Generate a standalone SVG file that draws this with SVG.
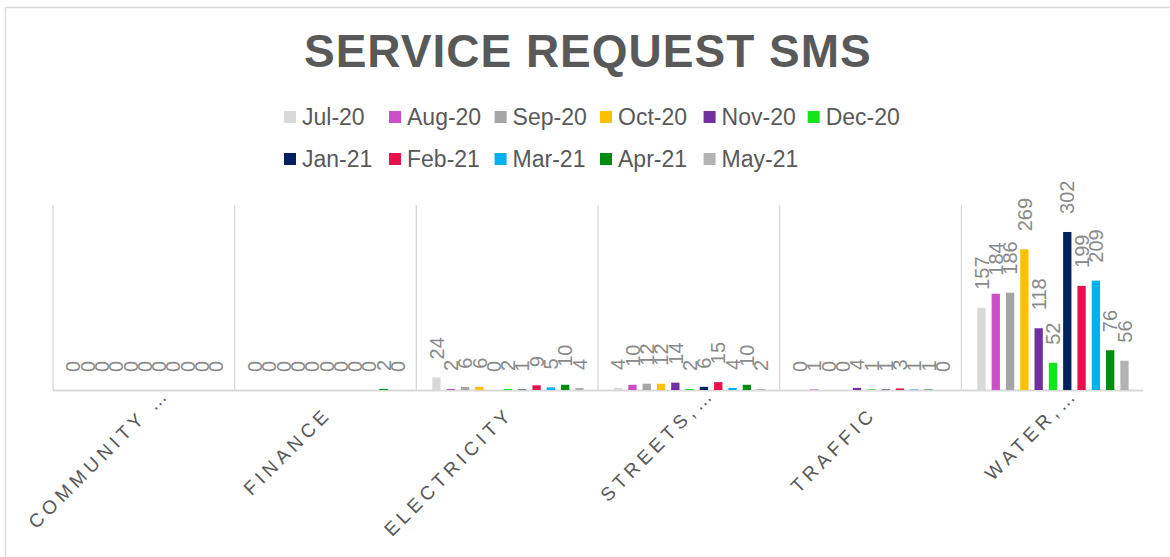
<svg xmlns="http://www.w3.org/2000/svg" width="1170" height="557" viewBox="0 0 1170 557">
<style>
.title{font-family:"Liberation Sans",Arial,sans-serif;font-weight:bold;font-size:46px;fill:#595959;letter-spacing:1px}
.leg{font-family:"Liberation Sans",Arial,sans-serif;font-size:23px;fill:#595959}
.cat{font-family:"Liberation Sans",Arial,sans-serif;font-size:19px;fill:#595959;letter-spacing:4.5px;text-anchor:end}
.dl{font-family:"Liberation Sans",Arial,sans-serif;font-size:20px;fill:#8a8a8a}
.grid{stroke:#d9d9d9;stroke-width:1.3;fill:none}
.c0{fill:#d9d9d9}.c1{fill:#cc4fc8}.c2{fill:#a5a5a5}.c3{fill:#ffc000}.c4{fill:#7030a0}.c5{fill:#12e51b}
.c6{fill:#002060}.c7{fill:#e8114b}.c8{fill:#00b0f0}.c9{fill:#008c0f}.c10{fill:#b3b3b3}
</style>
<rect x="0" y="0" width="1170" height="557" fill="#ffffff"/>
<rect x="5.5" y="7.5" width="1200" height="600" fill="none" stroke="#d9d9d9" stroke-width="1.5"/>
<text class="title" x="304" y="67">SERVICE REQUEST SMS</text>
<g id="legend">
<rect class="c0" x="284" y="111" width="12" height="12"/><text class="leg" x="302" y="125">Jul-20</text>
<rect class="c1" x="389" y="111" width="12" height="12"/><text class="leg" x="407" y="125">Aug-20</text>
<rect class="c2" x="494.6" y="111" width="12" height="12"/><text class="leg" x="512.6" y="125">Sep-20</text>
<rect class="c3" x="600" y="111" width="12" height="12"/><text class="leg" x="618" y="125">Oct-20</text>
<rect class="c4" x="703.6" y="111" width="12" height="12"/><text class="leg" x="721.6" y="125">Nov-20</text>
<rect class="c5" x="807.7" y="111" width="12" height="12"/><text class="leg" x="825.7" y="125">Dec-20</text>
<rect class="c6" x="284" y="153" width="12" height="12"/><text class="leg" x="302" y="167">Jan-21</text>
<rect class="c7" x="389" y="153" width="12" height="12"/><text class="leg" x="407" y="167">Feb-21</text>
<rect class="c8" x="494.6" y="153" width="12" height="12"/><text class="leg" x="512.6" y="167">Mar-21</text>
<rect class="c9" x="600" y="153" width="12" height="12"/><text class="leg" x="618" y="167">Apr-21</text>
<rect class="c10" x="703.6" y="153" width="12" height="12"/><text class="leg" x="721.6" y="167">May-21</text>
</g>
<g id="connectors">
<path class="grid" d="M53 205V390M234.67 205V390M416.33 205V390M598 205V390M779.67 205V390M961.33 205V390"/>
<line x1="53" y1="390.5" x2="1143" y2="390.5" stroke="#d9d9d9" stroke-width="2"/>
</g>
<g id="community" transform="translate(53,0)">
<text class="dl" transform="translate(27.35 372) rotate(-90)">0</text>
<text class="dl" transform="translate(41.65 372) rotate(-90)">0</text>
<text class="dl" transform="translate(55.95 372) rotate(-90)">0</text>
<text class="dl" transform="translate(70.25 372) rotate(-90)">0</text>
<text class="dl" transform="translate(84.55 372) rotate(-90)">0</text>
<text class="dl" transform="translate(98.85 372) rotate(-90)">0</text>
<text class="dl" transform="translate(113.15 372) rotate(-90)">0</text>
<text class="dl" transform="translate(127.45 372) rotate(-90)">0</text>
<text class="dl" transform="translate(141.75 372) rotate(-90)">0</text>
<text class="dl" transform="translate(156.05 372) rotate(-90)">0</text>
<text class="dl" transform="translate(170.35 372) rotate(-90)">0</text>
<text class="cat" transform="translate(118 395) rotate(-45)">COMMUNITY …</text>
</g>
<g id="finance" transform="translate(234.67,0)">
<rect class="c9" x="144.7" y="388.95" width="8.3" height="1.05"/>
<text class="dl" transform="translate(27.35 372) rotate(-90)">0</text>
<text class="dl" transform="translate(41.65 372) rotate(-90)">0</text>
<text class="dl" transform="translate(55.95 372) rotate(-90)">0</text>
<text class="dl" transform="translate(70.25 372) rotate(-90)">0</text>
<text class="dl" transform="translate(84.55 372) rotate(-90)">0</text>
<text class="dl" transform="translate(98.85 372) rotate(-90)">0</text>
<text class="dl" transform="translate(113.15 372) rotate(-90)">0</text>
<text class="dl" transform="translate(127.45 372) rotate(-90)">0</text>
<text class="dl" transform="translate(141.75 372) rotate(-90)">0</text>
<text class="dl" transform="translate(156.05 370.95) rotate(-90)">2</text>
<text class="dl" transform="translate(170.35 372) rotate(-90)">0</text>
<text class="cat" transform="translate(98 415) rotate(-45)">FINANCE</text>
</g>
<g id="electricity" transform="translate(416.33,0)">
<rect class="c0" x="16" y="377.44" width="8.3" height="12.56"/>
<rect class="c1" x="30.3" y="388.95" width="8.3" height="1.05"/>
<rect class="c2" x="44.6" y="386.86" width="8.3" height="3.14"/>
<rect class="c3" x="58.9" y="386.86" width="8.3" height="3.14"/>
<rect class="c5" x="87.5" y="388.95" width="8.3" height="1.05"/>
<rect class="c6" x="101.8" y="389.48" width="8.3" height="0.52"/>
<rect class="c7" x="116.1" y="385.29" width="8.3" height="4.71"/>
<rect class="c8" x="130.4" y="387.38" width="8.3" height="2.62"/>
<rect class="c9" x="144.7" y="384.77" width="8.3" height="5.23"/>
<rect class="c10" x="159" y="387.91" width="8.3" height="2.09"/>
<text class="dl" transform="translate(27.35 359.44) rotate(-90)">24</text>
<text class="dl" transform="translate(41.65 370.95) rotate(-90)">2</text>
<text class="dl" transform="translate(55.95 368.86) rotate(-90)">6</text>
<text class="dl" transform="translate(70.25 368.86) rotate(-90)">6</text>
<text class="dl" transform="translate(84.55 372) rotate(-90)">0</text>
<text class="dl" transform="translate(98.85 370.95) rotate(-90)">2</text>
<text class="dl" transform="translate(113.15 371.48) rotate(-90)">1</text>
<text class="dl" transform="translate(127.45 367.29) rotate(-90)">9</text>
<text class="dl" transform="translate(141.75 369.38) rotate(-90)">5</text>
<text class="dl" transform="translate(156.05 366.77) rotate(-90)">10</text>
<text class="dl" transform="translate(170.35 369.91) rotate(-90)">4</text>
<text class="cat" transform="translate(98 415) rotate(-45)">ELECTRICITY</text>
</g>
<g id="streets" transform="translate(598,0)">
<rect class="c0" x="16" y="387.91" width="8.3" height="2.09"/>
<rect class="c1" x="30.3" y="384.77" width="8.3" height="5.23"/>
<rect class="c2" x="44.6" y="383.72" width="8.3" height="6.28"/>
<rect class="c3" x="58.9" y="383.72" width="8.3" height="6.28"/>
<rect class="c4" x="73.2" y="382.68" width="8.3" height="7.32"/>
<rect class="c5" x="87.5" y="388.95" width="8.3" height="1.05"/>
<rect class="c6" x="101.8" y="386.86" width="8.3" height="3.14"/>
<rect class="c7" x="116.1" y="382.15" width="8.3" height="7.85"/>
<rect class="c8" x="130.4" y="387.91" width="8.3" height="2.09"/>
<rect class="c9" x="144.7" y="384.77" width="8.3" height="5.23"/>
<rect class="c10" x="159" y="388.95" width="8.3" height="1.05"/>
<text class="dl" transform="translate(27.35 369.91) rotate(-90)">4</text>
<text class="dl" transform="translate(41.65 366.77) rotate(-90)">10</text>
<text class="dl" transform="translate(55.95 365.72) rotate(-90)">12</text>
<text class="dl" transform="translate(70.25 365.72) rotate(-90)">12</text>
<text class="dl" transform="translate(84.55 364.68) rotate(-90)">14</text>
<text class="dl" transform="translate(98.85 370.95) rotate(-90)">2</text>
<text class="dl" transform="translate(113.15 368.86) rotate(-90)">6</text>
<text class="dl" transform="translate(127.45 364.15) rotate(-90)">15</text>
<text class="dl" transform="translate(141.75 369.91) rotate(-90)">4</text>
<text class="dl" transform="translate(156.05 366.77) rotate(-90)">10</text>
<text class="dl" transform="translate(170.35 370.95) rotate(-90)">2</text>
<text class="cat" transform="translate(118 395) rotate(-45)">STREETS,…</text>
</g>
<g id="traffic" transform="translate(779.67,0)">
<rect class="c1" x="30.3" y="389.48" width="8.3" height="0.52"/>
<rect class="c4" x="73.2" y="387.91" width="8.3" height="2.09"/>
<rect class="c5" x="87.5" y="389.48" width="8.3" height="0.52"/>
<rect class="c6" x="101.8" y="389.48" width="8.3" height="0.52"/>
<rect class="c7" x="116.1" y="388.43" width="8.3" height="1.57"/>
<rect class="c8" x="130.4" y="389.48" width="8.3" height="0.52"/>
<rect class="c9" x="144.7" y="389.48" width="8.3" height="0.52"/>
<text class="dl" transform="translate(27.35 372) rotate(-90)">0</text>
<text class="dl" transform="translate(41.65 371.48) rotate(-90)">1</text>
<text class="dl" transform="translate(55.95 372) rotate(-90)">0</text>
<text class="dl" transform="translate(70.25 372) rotate(-90)">0</text>
<text class="dl" transform="translate(84.55 369.91) rotate(-90)">4</text>
<text class="dl" transform="translate(98.85 371.48) rotate(-90)">1</text>
<text class="dl" transform="translate(113.15 371.48) rotate(-90)">1</text>
<text class="dl" transform="translate(127.45 370.43) rotate(-90)">3</text>
<text class="dl" transform="translate(141.75 371.48) rotate(-90)">1</text>
<text class="dl" transform="translate(156.05 371.48) rotate(-90)">1</text>
<text class="dl" transform="translate(170.35 372) rotate(-90)">0</text>
<text class="cat" transform="translate(98 415) rotate(-45)">TRAFFIC</text>
</g>
<g id="water" transform="translate(961.33,0)">
<rect class="c0" x="16" y="307.86" width="8.3" height="82.14"/>
<rect class="c1" x="30.3" y="293.73" width="8.3" height="96.27"/>
<rect class="c2" x="44.6" y="292.68" width="8.3" height="97.32"/>
<rect class="c3" x="58.9" y="249.26" width="8.3" height="140.74"/>
<rect class="c4" x="73.2" y="328.26" width="8.3" height="61.74"/>
<rect class="c5" x="87.5" y="362.79" width="8.3" height="27.21"/>
<rect class="c6" x="101.8" y="231.99" width="8.3" height="158.01"/>
<rect class="c7" x="116.1" y="285.88" width="8.3" height="104.12"/>
<rect class="c8" x="130.4" y="280.65" width="8.3" height="109.35"/>
<rect class="c9" x="144.7" y="350.24" width="8.3" height="39.76"/>
<rect class="c10" x="159" y="360.7" width="8.3" height="29.3"/>
<text class="dl" transform="translate(27.35 289.86) rotate(-90)">157</text>
<text class="dl" transform="translate(41.65 275.73) rotate(-90)">184</text>
<text class="dl" transform="translate(55.95 274.68) rotate(-90)">186</text>
<text class="dl" transform="translate(70.25 231.26) rotate(-90)">269</text>
<text class="dl" transform="translate(84.55 310.26) rotate(-90)">118</text>
<text class="dl" transform="translate(98.85 344.79) rotate(-90)">52</text>
<text class="dl" transform="translate(113.15 213.99) rotate(-90)">302</text>
<text class="dl" transform="translate(127.45 267.88) rotate(-90)">199</text>
<text class="dl" transform="translate(141.75 262.65) rotate(-90)">209</text>
<text class="dl" transform="translate(156.05 332.24) rotate(-90)">76</text>
<text class="dl" transform="translate(170.35 342.7) rotate(-90)">56</text>
<text class="cat" transform="translate(118 395) rotate(-45)">WATER,…</text>
</g>
</svg>
